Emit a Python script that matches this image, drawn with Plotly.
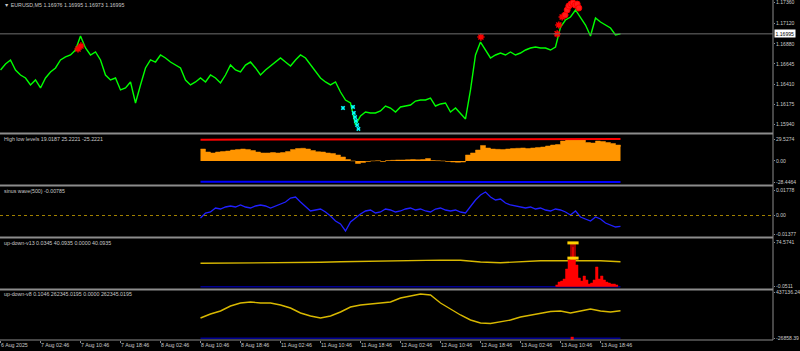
import plotly.graph_objects as go

# ---------------- data ----------------
time_tick_bars = [0, 96, 192, 288, 384, 480, 576, 672, 768, 864, 960, 1056, 1152, 1248, 1344, 1440]
time_tick_labels = ["6 Aug 2025", "7 Aug 02:46", "7 Aug 10:46", "7 Aug 18:46", "8 Aug 02:46",
                    "8 Aug 10:46", "8 Aug 18:46", "11 Aug 02:46", "11 Aug 10:46", "11 Aug 18:46",
                    "12 Aug 02:46", "12 Aug 10:46", "12 Aug 18:46", "13 Aug 02:46", "13 Aug 10:46",
                    "13 Aug 18:46"]

# EURUSD M5 close, one reading per hour (12 bars)
price_close = [
    1.16574, 1.16644, 1.16691, 1.16574, 1.16516, 1.16481, 1.16400, 1.16458, 1.16365, 1.16481,
    1.16551, 1.16598, 1.16691, 1.16726, 1.16749, 1.16807, 1.16970, 1.16830, 1.16749, 1.16784,
    1.16691, 1.16516, 1.16458, 1.16481, 1.16342, 1.16365, 1.16435, 1.16190, 1.16400, 1.16598,
    1.16691, 1.16667, 1.16749, 1.16714, 1.16667, 1.16632, 1.16598, 1.16458, 1.16400, 1.16435,
    1.16481, 1.16435, 1.16516, 1.16481, 1.16423, 1.16516, 1.16632, 1.16574, 1.16551, 1.16632,
    1.16667, 1.16598, 1.16516, 1.16574, 1.16621, 1.16667, 1.16714, 1.16667, 1.16621, 1.16691,
    1.16749, 1.16714, 1.16632, 1.16551, 1.16481, 1.16435, 1.16400, 1.16435, 1.16318, 1.16225,
    1.16190, 1.15934, 1.16039, 1.16085, 1.16074, 1.16074, 1.16097, 1.16155, 1.16132, 1.16085,
    1.16144, 1.16155, 1.16167, 1.16213, 1.16225, 1.16225, 1.16248, 1.16155, 1.16179, 1.16190,
    1.16085, 1.16132, 1.16074, 1.16004, 1.16342, 1.16749, 1.16900, 1.16807, 1.16714, 1.16749,
    1.16772, 1.16749, 1.16784, 1.16749, 1.16772, 1.16807, 1.16830, 1.16842, 1.16830, 1.16830,
    1.16807, 1.16842, 1.17075, 1.17156, 1.17191, 1.17273, 1.17191, 1.17098, 1.16970, 1.17180,
    1.17133, 1.17098, 1.17063, 1.16982, 1.16995]
bar_step = 12
price_bars = [k * bar_step for k in range(len(price_close))]
last_price = 1.16995
price_ticks = [1.17360, 1.17120, 1.16880, 1.16645, 1.16410, 1.16175, 1.15940]

# arrow signals on the price pane
sell_star_bars = [186, 193, 1153, 1336, 1340, 1348]
sell_star_prices = [1.16819, 1.16854, 1.16958, 1.16995, 1.17098, 1.17191]
sell_dot_bars = [1355, 1360, 1364, 1369, 1374, 1379, 1384, 1388]
sell_dot_prices = [1.17214, 1.17273, 1.17319, 1.17342, 1.17354, 1.17331, 1.17342, 1.17296]
buy_bars = [822, 846, 848, 851, 853, 856, 859]
buy_prices = [1.16132, 1.16144, 1.16074, 1.16027, 1.15981, 1.15934, 1.15888]

# indicator panes start at bar 480
ind_start = 480
hl_hist = [
    16.0, 12.0, 10.7, 12.0, 12.7, 13.3, 14.7, 15.4, 16.0, 15.4,
    14.0, 12.0, 10.7, 10.7, 11.3, 10.7, 11.3, 12.7, 15.4, 16.7,
    17.0, 16.0, 14.0, 12.4, 12.0, 10.7, 10.0, 8.0, 5.3, 1.9,
    0.0, -3.5, -2.2, -0.8, 0.0, 0.3, -0.8, 0.5, 0.8, 1.2,
    1.2, 1.6, 1.9, 1.6, 1.9, 3.2, 0.5, 0.3, 0.0, -0.8,
    -1.5, -1.9, -1.5, 8.0, 10.7, 14.7, 20.8, 17.4, 16.0, 15.6,
    15.4, 16.0, 16.7, 17.0, 17.4, 16.7, 17.4, 18.1, 18.7, 20.1,
    21.4, 22.1, 26.8, 28.2, 28.9, 29.1, 28.4, 24.8, 24.1, 26.8,
    26.2, 24.8, 23.5, 21.4, 19.0]
level_bars = [480, 576, 672, 768, 864, 960, 1056, 1152, 1248, 1344, 1440, 1488]
hl_high = [28.6, 28.7, 28.8, 28.9, 29.0, 29.0, 29.1, 28.9, 29.2, 29.3, 29.4, 29.5]
hl_low = [-28.0, -28.0, -28.1, -28.1, -28.1, -28.2, -28.2, -28.2, -28.3, -28.3, -28.4, -28.4]
hl_ticks = [29.5274, 0.0, -28.4464]
hl_ticktext = ["29.5274", "0.00", "-28.4464"]

sinus = [
    -0.00179, 0.00179, 0.00251, 0.00538, 0.00466, 0.00609, 0.00681, 0.00609, 0.00753, 0.00609,
    0.00538, 0.00681, 0.00753, 0.00681, 0.00538, 0.00681, 0.00825, 0.00968, 0.01255, 0.01326,
    0.00968, 0.00609, 0.00323, 0.00394, 0.00466, 0.00251, -0.00036, -0.00394, -0.00609, -0.01111,
    -0.00466, -0.00179, 0.00108, 0.00323, 0.00394, 0.00179, 0.00251, 0.00466, 0.00394, 0.00251,
    0.00323, 0.00466, 0.00538, 0.00394, 0.00466, 0.00323, 0.00251, 0.00466, 0.00538, 0.00394,
    0.00323, 0.00394, 0.00251, 0.00179, 0.00681, 0.01111, 0.01470, 0.01685, 0.01326, 0.01111,
    0.01183, 0.00896, 0.00753, 0.00681, 0.00609, 0.00538, 0.00609, 0.00466, 0.00538, 0.00394,
    0.00323, 0.00466, 0.00394, 0.00251, 0.00036, 0.00323, -0.00108, -0.00251, -0.00394, -0.00108,
    -0.00251, -0.00538, -0.00681, -0.00825, -0.00785]
sinus_ticks = [0.01778, 0.0, -0.01377]
sinus_ticktext = ["0.01778", "0.00", "-0.01377"]

v13_bars = [480 + 48 * k for k in range(22)]
v13_line = [39.3, 39.4, 39.5, 39.6, 39.8, 40.2, 41.0, 41.8, 42.5, 43.2, 43.8,
            44.3, 44.7, 44.5, 41.5, 40.3, 42.0, 43.5, 43.7, 43.7, 43.5, 42.0]
v13_hist_start = 1332
v13_hist = [2.9, 7.9, 9.6, 12.9, 29.7, 45.0, 48.0, 48.0, 36.5, 14.6, 9.6, 18.0, 11.3,
            4.5, 6.2, 11.3, 33.1, 12.9, 18.0, 11.3, 7.9, 6.2, 4.5, 4.5, 2.9, 2.0]
v13_spike_bar = 1374
v13_spike_base = 48.0
v13_spike_top = 74.5741
v13_ticks = [74.5741, 0.0]
v13_ticktext = ["74.5741", "-0.0511"]

v8_line = [
    192911, 230923, 259432, 306947, 335456, 344959, 335456, 335456, 316450, 287941,
    240426, 211917, 192911, 211917, 249929, 297444, 316450, 325953, 335456, 344959,
    382971, 401977, 420983, 411480, 335456, 278438, 221420, 173905, 145396, 140644,
    154899, 173905, 202414, 221420, 240426, 254680, 259432, 240426, 259432, 278438,
    259432, 249929, 262345]
v8_ticks = [437136.24, 0.0]
v8_ticktext = ["437136.24", "-26858.39"]
v8_mark_bar = 1372

titles = ["EURUSD,M5 1.16976 1.16995 1.16973 1.16995",
          "High low levels 19.0187 25.2221 -25.2221",
          "sinus wave(500) -0.00785",
          "up-down-v13 0.0345 40.0935 0.0000 40.0935",
          "up-down-v8 0.1046 262345.0195 0.0000 262345.0195"]

# ---------------- layout geometry ----------------
W, H = 800, 351
MR, MB = 27, 11
PH = H - MB


def pp(py):
    return 1 - py / PH


FONT = "Liberation Sans, Arial, sans-serif"
FS = 5.3
TXT = "#c8c8c8"
GRAY = "#8c8c8c"

ind_bars = [ind_start + bar_step * k for k in range(len(hl_hist))]
hist_bars = [v13_hist_start + 6 * k for k in range(len(v13_hist))]
v8_bars = [ind_start + 24 * k for k in range(len(v8_line))]

fig = go.Figure()

# main pane
fig.add_trace(go.Scatter(x=price_bars, y=price_close, mode="lines", yaxis="y",
                         line=dict(color="#00ff00", width=1.4)))
fig.add_trace(go.Scatter(x=sell_star_bars, y=sell_star_prices, mode="markers", yaxis="y",
                         marker=dict(symbol="asterisk-open", size=6, color="#ff0000",
                                     line=dict(color="#ff0000", width=1.5))))
fig.add_trace(go.Scatter(x=sell_dot_bars, y=sell_dot_prices, mode="markers", yaxis="y",
                         marker=dict(symbol="circle", size=6, color="#ff1a1a",
                                     line=dict(color="#ff0000", width=1))))
fig.add_trace(go.Scatter(x=buy_bars, y=buy_prices, mode="markers", yaxis="y",
                         marker=dict(symbol="x", size=4, color="#00ffff",
                                     line=dict(width=0))))

# high low levels
fig.add_trace(go.Scatter(x=ind_bars, y=hl_hist, mode="lines", yaxis="y2", fill="tozeroy",
                         fillcolor="#ff9500", line=dict(color="#ff9500", width=0.5, shape="hv")))
fig.add_trace(go.Scatter(x=level_bars, y=hl_high, mode="lines", yaxis="y2",
                         line=dict(color="#ff0000", width=2)))
fig.add_trace(go.Scatter(x=level_bars, y=hl_low, mode="lines", yaxis="y2",
                         line=dict(color="#0000ff", width=2)))

# sinus wave
fig.add_trace(go.Scatter(x=ind_bars, y=sinus, mode="lines", yaxis="y3",
                         line=dict(color="#2020ff", width=1.3)))

# up-down-v13
fig.add_trace(go.Scatter(x=[level_bars[0], level_bars[-1]], y=[0, 0], mode="lines", yaxis="y4",
                         line=dict(color="#000090", width=1.5)))
fig.add_trace(go.Scatter(x=v13_bars, y=v13_line, mode="lines", yaxis="y4",
                         line=dict(color="#d8b800", width=1.4)))
fig.add_trace(go.Scatter(x=hist_bars, y=v13_hist, mode="lines", yaxis="y4", fill="tozeroy",
                         fillcolor="#ff0000", line=dict(color="#ff0000", width=0.5, shape="hv")))
fig.add_trace(go.Bar(x=[v13_spike_bar], y=[v13_spike_top - v13_spike_base], base=[v13_spike_base],
                     width=[14], yaxis="y4", marker=dict(color="#a00000", line=dict(width=0))))
fig.add_trace(go.Bar(x=[v13_spike_bar], y=[v13_spike_top - v13_spike_base - 8], base=[v13_spike_base],
                     width=[5], yaxis="y4", marker=dict(color="#e00000", line=dict(width=0))))
fig.add_trace(go.Scatter(x=[v13_spike_bar, v13_spike_bar], y=[v13_spike_top - 1, v13_spike_base],
                         mode="markers", yaxis="y4",
                         marker=dict(symbol="line-ew-open", size=8, color="#ffd000",
                                     line=dict(color="#ffd000", width=3))))

# up-down-v8
fig.add_trace(go.Scatter(x=[level_bars[0], level_bars[-1]], y=[0, 0], mode="lines", yaxis="y5",
                         line=dict(color="#000090", width=1.5)))
fig.add_trace(go.Scatter(x=v8_bars, y=v8_line, mode="lines", yaxis="y5",
                         line=dict(color="#d8b800", width=1.4)))
fig.add_trace(go.Scatter(x=[v8_mark_bar], y=[0], mode="markers", yaxis="y5",
                         marker=dict(symbol="square", size=3, color="#ff0000")))

axis_common = dict(showgrid=False, zeroline=False, showline=False, ticks="outside", ticklen=1,
                   tickcolor=GRAY, tickfont=dict(family=FONT, size=5.1, color=TXT),
                   side="right", anchor="x", fixedrange=True, automargin=False,
                   ticklabeloverflow="allow")

fig.update_layout(
    width=W, height=H, margin=dict(l=0, r=MR, t=0, b=MB, pad=0, autoexpand=False),
    paper_bgcolor="black", plot_bgcolor="black", showlegend=False, barmode="overlay",
    xaxis=dict(range=[-1.2, 1854], showgrid=False, zeroline=False, showline=False,
               tickvals=time_tick_bars, ticktext=time_tick_labels, ticks="outside", ticklen=2,
               tickcolor=GRAY, ticklabelposition="outside right", anchor="y5", tickangle=0,
               automargin=False, ticklabeloverflow="allow",
               tickfont=dict(family=FONT, size=FS, color=TXT), fixedrange=True),
    yaxis=dict(domain=[pp(132), 1], range=[1.158526, 1.17389], tickvals=price_ticks,
               ticktext=["%.5f" % v for v in price_ticks], **axis_common),
    yaxis2=dict(domain=[pp(184), pp(135)], range=[-31.14, 34.92], tickvals=hl_ticks,
                ticktext=hl_ticktext, **axis_common),
    yaxis3=dict(domain=[pp(236), pp(187)], range=[-0.0147, 0.02043], tickvals=sinus_ticks,
                ticktext=sinus_ticktext, **axis_common),
    yaxis4=dict(domain=[pp(288), pp(239)], range=[-2.18, 80.12], tickvals=v13_ticks,
                ticktext=v13_ticktext, **axis_common),
    yaxis5=dict(domain=[0, pp(291)], range=[-16157, 449490], tickvals=v8_ticks,
                ticktext=v8_ticktext, **axis_common),
)

shapes = []
for py in [133.5, 185.5, 237.5, 289.5]:
    shapes.append(dict(type="line", xref="paper", yref="paper", x0=0, x1=1, y0=pp(py), y1=pp(py),
                       line=dict(color=GRAY, width=2)))
shapes.append(dict(type="line", xref="paper", yref="paper", x0=0, x1=1, y0=0, y1=0,
                   line=dict(color=GRAY, width=1)))
shapes.append(dict(type="line", xref="paper", yref="paper", x0=1, x1=1, y0=0, y1=1,
                   line=dict(color=GRAY, width=1)))
shapes.append(dict(type="line", xref="paper", yref="y", x0=0, x1=1, y0=last_price, y1=last_price,
                   line=dict(color="#6e6e6e", width=1)))
shapes.append(dict(type="line", xref="paper", yref="y3", x0=0, x1=1, y0=0, y1=0,
                   line=dict(color="#a08000", width=1, dash="dot")))
fig.update_layout(shapes=shapes)

annos = []
title_py = [5, 139, 191, 243.3, 294.3]
for i, (t, py) in enumerate(zip(titles, title_py)):
    txt = ("\u25BC " + t) if i == 0 else t
    annos.append(dict(text=txt, xref="paper", yref="paper", x=0.003, y=pp(py), xanchor="left",
                      yanchor="middle", showarrow=False,
                      font=dict(family=FONT, size=FS, color=TXT)))
annos.append(dict(text="%.5f" % last_price, xref="paper", yref="y", x=1, y=last_price,
                  xanchor="left", yanchor="middle", xshift=1, showarrow=False, bgcolor="white",
                  borderpad=0.5, font=dict(family=FONT, size=5.1, color="black")))
fig.update_layout(annotations=annos)

fig.write_html("out.html")
